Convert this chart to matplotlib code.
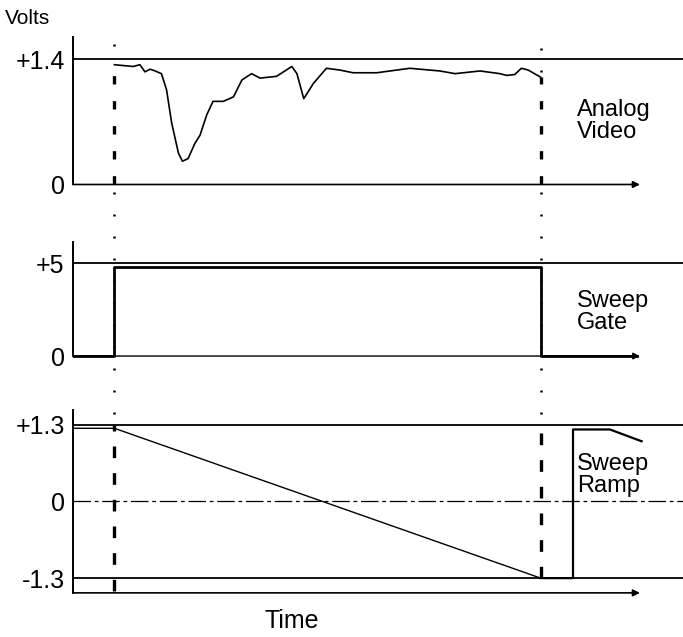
import matplotlib
matplotlib.use("Agg")
import matplotlib.pyplot as plt

plt.rcParams['font.family'] = ['Liberation Sans', 'DejaVu Sans']

# ---------------- data ----------------
# time axis (arbitrary units), arrow end at 100
t_gate_on = 7.3
t_gate_off = 82.5

video_t = [7.3, 10.6, 11.8, 12.7, 13.6, 14.5, 15.6, 16.5, 17.4, 18.6, 19.3, 20.3,
           21.5, 22.4, 23.6, 24.7, 26.5, 28.3, 29.8, 31.5, 33.0, 35.9, 38.6, 39.5,
           40.7, 42.4, 44.7, 47.1, 49.4, 53.6, 59.4, 64.7, 67.4, 71.8, 75.3, 76.5,
           77.9, 79.1, 80.3, 82.5]
video_v = [1.34, 1.32, 1.34, 1.26, 1.29, 1.27, 1.24, 1.06, 0.69, 0.35, 0.26, 0.29,
           0.46, 0.55, 0.78, 0.93, 0.93, 0.98, 1.17, 1.24, 1.19, 1.21, 1.32, 1.24,
           0.96, 1.13, 1.30, 1.28, 1.25, 1.25, 1.30, 1.27, 1.24, 1.27, 1.24, 1.22,
           1.23, 1.30, 1.28, 1.20]

gate_t = [0, 7.3, 7.3, 82.5, 82.5, 99.5]
gate_v = [0, 0, 4.8, 4.8, 0, 0]

ramp_t = [0, 7.3, 82.5, 88.2, 88.2, 94.7, 100.3]
ramp_v = [1.24, 1.24, -1.30, -1.30, 1.22, 1.22, 1.02]

video_ticks = [0, 1.4]
video_ticklabels = ['0', '+1.4']
gate_ticks = [0, 5]
gate_ticklabels = ['0', '+5']
ramp_ticks = [-1.3, 0, 1.3]
ramp_ticklabels = ['-1.3', '0', '+1.3']

# ---------------- layout ----------------
W, H = 683, 637
fig = plt.figure(figsize=(W / 100, H / 100), dpi=100)

X0, X1 = 73, 683          # pixel extent of panels
T_MAX = 107.6             # time at right edge
T_ARROW = 100
TICK_FS = 18
LABEL_FS = 17


def add_panel(ytop_px, ybot_px, ylim):
    ax = fig.add_axes([X0 / W, 1 - ybot_px / H, (X1 - X0) / W, (ybot_px - ytop_px) / H])
    ax.set_xlim(0, T_MAX)
    ax.set_ylim(*ylim)
    for s in ['top', 'right', 'bottom']:
        ax.spines[s].set_visible(False)
    ax.spines['left'].set_linewidth(1.4)
    ax.set_xticks([])
    ax.tick_params(axis='y', length=0, pad=6, labelsize=TICK_FS)
    ax.patch.set_alpha(0)
    return ax


lw_ref = 1.3
dash_style = (0, (2.5, 5))

# Panel 1: Analog video
ax1 = add_panel(37, 192, (-0.084, 1.65))
ax1.set_yticks(video_ticks, video_ticklabels)
ax1.spines['left'].set_bounds(0, 1.65)
ax1.plot([0, T_MAX], [1.4, 1.4], color='black', lw=lw_ref)
ax1.annotate('', xy=(T_ARROW, 0), xytext=(0, 0),
             arrowprops=dict(arrowstyle='-|>', color='black', lw=1.2,
                             mutation_scale=10, shrinkA=0, shrinkB=0))
ax1.plot(video_t, video_v, color='black', lw=1.2)
ax1.vlines([t_gate_on], 0, video_v[0], colors='black', lw=2.4, linestyles=[dash_style])
ax1.vlines([t_gate_off], 0, video_v[-1], colors='black', lw=2.4, linestyles=[dash_style])

# Panel 2: Sweep gate
ax2 = add_panel(242, 362, (-0.32, 6.13))
ax2.set_yticks(gate_ticks, gate_ticklabels)
ax2.spines['left'].set_bounds(0, 6.13)
ax2.plot([0, T_MAX], [5, 5], color='black', lw=lw_ref)
ax2.annotate('', xy=(T_ARROW, 0), xytext=(0, 0),
             arrowprops=dict(arrowstyle='-|>', color='black', lw=1.0,
                             mutation_scale=10, shrinkA=0, shrinkB=0))
ax2.plot(gate_t, gate_v, color='black', lw=2.0)

# Panel 3: Sweep ramp
ax3 = add_panel(410, 597, (-1.62, 1.55))
ax3.set_yticks(ramp_ticks, ramp_ticklabels)
ax3.spines['left'].set_bounds(-1.55, 1.55)
ax3.plot([0, T_MAX], [1.3, 1.3], color='black', lw=lw_ref)
ax3.plot([0, T_MAX], [-1.3, -1.3], color='black', lw=lw_ref)
ax3.plot([0, T_MAX], [0, 0], color='black', lw=0.9, linestyle=(0, (14, 3, 3, 3)))
ax3.annotate('', xy=(T_ARROW, -1.55), xytext=(0, -1.55),
             arrowprops=dict(arrowstyle='-|>', color='black', lw=1.2,
                             mutation_scale=10, shrinkA=0, shrinkB=0))
ax3.plot(ramp_t[:3], ramp_v[:3], color='black', lw=1.0)
ax3.plot(ramp_t[2:], ramp_v[2:], color='black', lw=1.6)
ax3.vlines([t_gate_on], -1.52, 1.3, colors='black', lw=2.4,
           linestyles=[(0, (3.5, 4.5))])
ax3.vlines([t_gate_off], -1.3, 1.3, colors='black', lw=2.4,
           linestyles=[(0, (3.5, 4.5))])

# dotted guide lines between the dashed parts
ov = fig.add_axes([X0 / W, 0, (X1 - X0) / W, 1])
ov.set_xlim(0, T_MAX)
ov.set_ylim(H, 0)
ov.axis('off')
ov.patch.set_alpha(0)
dot_style = (0, (0.8, 8))
ov.vlines([t_gate_on, t_gate_on], [44, 192], [60, 422], colors='black', lw=1.8,
          linestyles=[dot_style])
ov.vlines([t_gate_off, t_gate_off], [48, 192], [76, 422], colors='black', lw=1.8,
          linestyles=[dot_style])

# text labels
fig.text(5 / W, 1 - 18 / H, 'Volts', fontsize=15, ha='left', va='center')
fig.text(577 / W, 1 - 121 / H, 'Analog\nVideo', fontsize=LABEL_FS, ha='left',
         va='center', linespacing=1.0)
fig.text(577 / W, 1 - 312 / H, 'Sweep\nGate', fontsize=LABEL_FS, ha='left',
         va='center', linespacing=1.0)
fig.text(577 / W, 1 - 475 / H, 'Sweep\nRamp', fontsize=LABEL_FS, ha='left',
         va='center', linespacing=1.0)
fig.text(292 / W, 1 - 621 / H, 'Time', fontsize=18, ha='center', va='center')

fig.savefig('out.png', dpi=100, facecolor='white')
